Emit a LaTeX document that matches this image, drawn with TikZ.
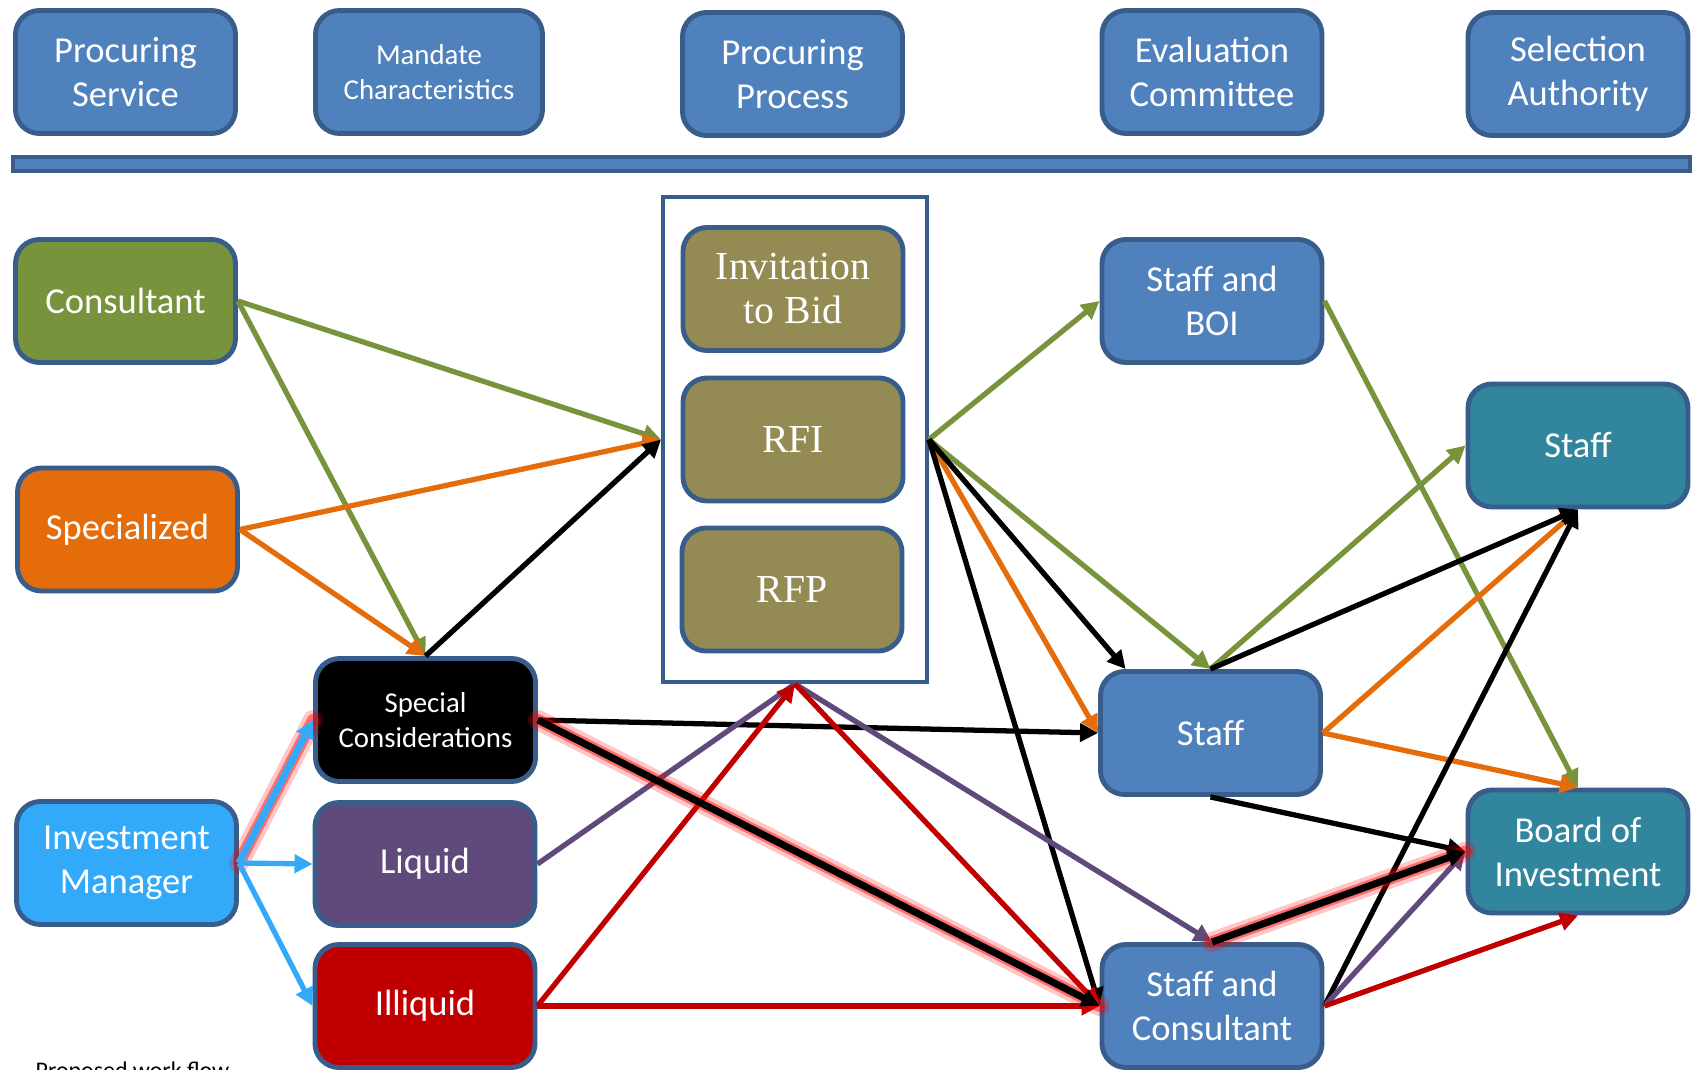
\documentclass[tikz,border=0pt]{standalone}
\usepackage{fontspec}
\setmainfont{Carlito}
\newfontfamily\bidfont{Liberation Serif}
\usetikzlibrary{arrows.meta}

\definecolor{boxblue}{HTML}{4F81BD}
\definecolor{edgeblue}{HTML}{385D8A}
\definecolor{cgreen}{HTML}{77933C}
\definecolor{corange}{HTML}{E46C0A}
\definecolor{cblue}{RGB}{51,169,250}
\definecolor{cpurple}{HTML}{604A7B}
\definecolor{cred}{HTML}{C00000}
\definecolor{colive}{HTML}{948A54}
\definecolor{cteal}{HTML}{31859C}

\begin{document}
\begin{tikzpicture}[
  x=0.1mm, y=-0.1mm,
  font=\fontsize{10.4}{12.5}\selectfont,
  box/.style={draw=edgeblue, line width=1.4pt, rounded corners=2.4mm, text=white,
    align=center, minimum width=22mm, minimum height=12.3mm, inner sep=1pt},
  head/.style={box, fill=boxblue},
  small/.style={font=\fontsize{8.2}{10}\selectfont},
  bid/.style={box, fill=colive, font=\bidfont\fontsize{11.3}{12.5}\selectfont},
  arr/.style={-{Triangle[length=1.8mm,width=1.8mm]}, line width=1.5pt},
  plain/.style={line width=1.5pt},
  glow/.style={line width=2pt,
    preaction={draw=red, line width=2mm, draw opacity=0.22, line cap=round, -},
    preaction={draw=red, line width=1.2mm, draw opacity=0.45, line cap=round, -}},
]
  \useasboundingbox (0,0) rectangle (1698,1070);
  \clip (0,0) rectangle (1698,1070);

  % ===== column heads =====
  \node[head] (service) at (125.5,72) {Procuring\\Service};
  \node[head, small, minimum width=22.7mm] (mandate) at (429,72) {Mandate\\Characteristics};
  \node[head] (process) at (792.5,74) {Procuring\\Process};
  \node[head] (committee) at (1212,72) {Evaluation\\Committee};
  \node[head] (authority) at (1578,74) {Selection\\Authority};
  \node[draw=edgeblue, fill=boxblue, line width=1.1pt, minimum width=167.7mm,
    minimum height=1.4mm, inner sep=0pt] (rule) at (851.5,164) {};

  % ===== procuring service =====
  \node[box, fill=cgreen] (consultant) at (125.5,301) {Consultant};
  \node[box, fill=corange] (specialized) at (127.5,529.5) {Specialized};
  \node[box, fill=cblue] (manager) at (126.5,863) {Investment\\Manager};

  % ===== mandate =====
  \node[box, fill=black, small] (special) at (425.5,720) {Special\\Considerations};
  \node[box, fill=cpurple] (liquid) at (425,864) {Liquid};
  \node[box, fill=cred] (illiquid) at (425,1006) {Illiquid};

  % ===== procuring process =====
  \node[draw=edgeblue, line width=1.1pt, minimum width=26.4mm, minimum height=48.5mm,
    inner sep=0pt] (bidbox) at (795,439.5) {};
  \node[bid] (invite) at (793,289) {Invitation\\to Bid};
  \node[bid] (rfi) at (793,439.5) {RFI};
  \node[bid] (rfp) at (792,589.5) {RFP};

  % ===== evaluation / selection =====
  \node[head] (staffboi) at (1212,301) {Staff and\\BOI};
  \node[head] (staff) at (1210.5,733) {Staff};
  \node[head] (staffcons) at (1212,1006) {Staff and\\Consultant};
  \node[box, fill=cteal] (staffsel) at (1578,445.5) {Staff};
  \node[box, fill=cteal] (board) at (1578,851.5) {Board of\\Investment};

  \node[anchor=base west, inner sep=0pt, font=\fontsize{6.8}{8}\selectfont] (caption)
    at (35,1078) {Proposed work flow};

  % green
  \draw[arr, cgreen] (consultant.east) -- (bidbox.west);
  \draw[arr, cgreen] (consultant.east) -- (special.north);
  \draw[arr, cgreen] (bidbox.east) -- (staffboi.west);
  \draw[arr, cgreen] (bidbox.east) -- (staff.north);
  \draw[arr, cgreen] (staff.north) -- (staffsel.west);
  \draw[arr, cgreen] (staffboi.east) -- (board.north);
  % orange
  \draw[arr, corange] (specialized.east) -- (bidbox.west);
  \draw[arr, corange] (specialized.east) -- (special.north);
  \draw[arr, corange] (bidbox.east) -- (staff.west);
  \draw[arr, corange] (staff.east) -- (staffsel.south);
  \draw[arr, corange] (staff.east) -- (board.north);
  % black
  \draw[arr] (special.north) -- (bidbox.west);
  \draw[arr] (special.east) -- (staff.west);
  \draw[arr] (bidbox.east) -- (staff.143);
  \draw[arr] (bidbox.east) -- (staffcons.west);
  \draw[arr] (staff.north) -- (staffsel.south);
  \draw[arr] (staff.south) -- (board.west);
  \draw[arr] (staffcons.east) -- (staffsel.south);
  % purple
  \draw[plain, cpurple] (liquid.east) -- (bidbox.south);
  \draw[arr, cpurple] (bidbox.south) -- (staffcons.north);
  \draw[arr, cpurple] (staffcons.east) -- (board.west);
  % red
  \draw[arr, cred] (illiquid.east) -- (bidbox.south);
  \draw[arr, cred] (illiquid.east) -- (staffcons.west);
  \draw[arr, cred] (bidbox.south) -- (staffcons.west);
  \draw[arr, cred] (staffcons.east) -- (board.south);
  % highlighted path
  \draw[arr, glow] (special.east) -- (staffcons.west);
  \draw[arr, glow] (staffcons.north) -- (board.west);
  % blue
  \draw[arr, cblue, glow] (manager.east) -- (special.west);
  \draw[arr, cblue] (manager.east) -- (liquid.west);
  \draw[arr, cblue] (manager.east) -- (illiquid.west);
\end{tikzpicture}
\end{document}
